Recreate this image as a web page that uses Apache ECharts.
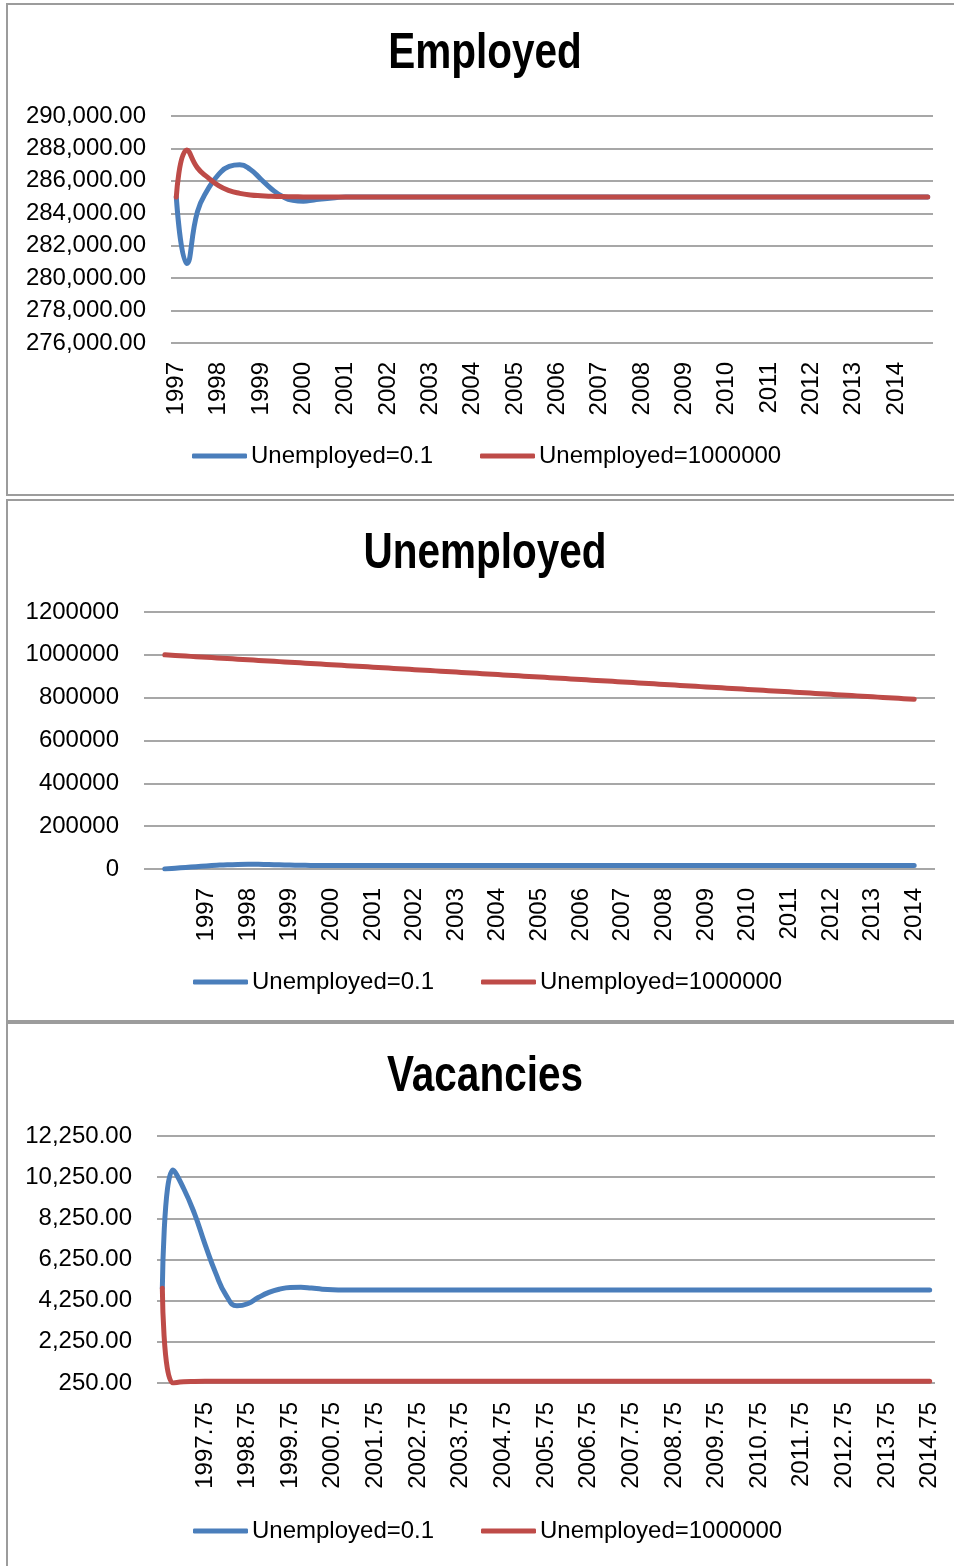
<!DOCTYPE html>
<html>
<head>
<meta charset="utf-8">
<script src="https://cdn.jsdelivr.net/npm/echarts@6/dist/echarts.min.js"></script>
<style>
  html, body { margin: 0; padding: 0; background: #fff; }
  #chart { width: 954px; height: 1566px; }
</style>
</head>
<body>
<div id="chart"></div>
<script>
// ---- Employed (quarterly, 1997 – 2014.75) ----
const employedQuarters = [
  '1997','1997.25','1997.5','1997.75','1998','1998.25','1998.5','1998.75',
  '1999','1999.25','1999.5','1999.75','2000','2000.25','2000.5','2000.75',
  '2001','2001.25','2001.5','2001.75','2002','2002.25','2002.5','2002.75',
  '2003','2003.25','2003.5','2003.75','2004','2004.25','2004.5','2004.75',
  '2005','2005.25','2005.5','2005.75','2006','2006.25','2006.5','2006.75',
  '2007','2007.25','2007.5','2007.75','2008','2008.25','2008.5','2008.75',
  '2009','2009.25','2009.5','2009.75','2010','2010.25','2010.5','2010.75',
  '2011','2011.25','2011.5','2011.75','2012','2012.25','2012.5','2012.75',
  '2013','2013.25','2013.5','2013.75','2014','2014.25','2014.5','2014.75'
];
const employedLowStart = [
  285000, 280900, 284100, 285500, 286400, 286900, 287000, 286700,
  286100, 285500, 285050, 284800, 284750, 284820, 284900, 284960,
  285000, 285000, 285000, 285000, 285000, 285000, 285000, 285000,
  285000, 285000, 285000, 285000, 285000, 285000, 285000, 285000,
  285000, 285000, 285000, 285000, 285000, 285000, 285000, 285000,
  285000, 285000, 285000, 285000, 285000, 285000, 285000, 285000,
  285000, 285000, 285000, 285000, 285000, 285000, 285000, 285000,
  285000, 285000, 285000, 285000, 285000, 285000, 285000, 285000,
  285000, 285000, 285000, 285000, 285000, 285000, 285000, 285000
];
const employedHighStart = [
  285000, 287900, 286800, 286200, 285700, 285400, 285230, 285130,
  285080, 285050, 285030, 285020, 285010, 285000, 285000, 285000,
  285000, 285000, 285000, 285000, 285000, 285000, 285000, 285000,
  285000, 285000, 285000, 285000, 285000, 285000, 285000, 285000,
  285000, 285000, 285000, 285000, 285000, 285000, 285000, 285000,
  285000, 285000, 285000, 285000, 285000, 285000, 285000, 285000,
  285000, 285000, 285000, 285000, 285000, 285000, 285000, 285000,
  285000, 285000, 285000, 285000, 285000, 285000, 285000, 285000,
  285000, 285000, 285000, 285000, 285000, 285000, 285000, 285000
];
const employedTicks = { min: 276000, max: 290000, step: 2000 };

// ---- Unemployed (axis runs 1995.5 – 2014.5, data 1996 – 2014) ----
const unemployedQuarters = [
  '1995.5','1995.75',
  '1996','1996.25','1996.5','1996.75','1997','1997.25','1997.5','1997.75',
  '1998','1998.25','1998.5','1998.75','1999','1999.25','1999.5','1999.75',
  '2000','2000.25','2000.5','2000.75','2001','2001.25','2001.5','2001.75',
  '2002','2002.25','2002.5','2002.75','2003','2003.25','2003.5','2003.75',
  '2004','2004.25','2004.5','2004.75','2005','2005.25','2005.5','2005.75',
  '2006','2006.25','2006.5','2006.75','2007','2007.25','2007.5','2007.75',
  '2008','2008.25','2008.5','2008.75','2009','2009.25','2009.5','2009.75',
  '2010','2010.25','2010.5','2010.75','2011','2011.25','2011.5','2011.75',
  '2012','2012.25','2012.5','2012.75','2013','2013.25','2013.5','2013.75',
  '2014','2014.25','2014.5'
];
const unemployedLowStart = [
  0.1, 3500, 7500, 11000, 14500, 17500, 20000, 21500,
  22000, 21600, 20700, 19500, 18300, 17400, 16800, 16400,
  16200, 16100, 16000, 16000, 16000, 16000, 16000, 16000,
  16000, 16000, 16000, 16000, 16000, 16000, 16000, 16000,
  16000, 16000, 16000, 16000, 16000, 16000, 16000, 16000,
  16000, 16000, 16000, 16000, 16000, 16000, 16000, 16000,
  16000, 16000, 16000, 16000, 16000, 16000, 16000, 16000,
  16000, 16000, 16000, 16000, 16000, 16000, 16000, 16000,
  16000, 16000, 16000, 16000, 16000, 16000, 16000, 16000,
  16000
];
const unemployedHighStart = [
  1000000, 997100, 994200, 991400, 988500, 985600, 982700, 979800,
  976900, 974100, 971200, 968300, 965400, 962500, 959600, 956800,
  953900, 951000, 948100, 945200, 942400, 939500, 936600, 933700,
  930800, 927900, 925100, 922200, 919300, 916400, 913500, 910600,
  907800, 904900, 902000, 899100, 896200, 893400, 890500, 887600,
  884700, 881800, 878900, 876100, 873200, 870300, 867400, 864500,
  861600, 858800, 855900, 853000, 850100, 847200, 844400, 841500,
  838600, 835700, 832800, 829900, 827100, 824200, 821300, 818400,
  815500, 812600, 809800, 806900, 804000, 801100, 798200, 795400,
  792500
];
const unemployedTicks = { min: 0, max: 1200000, step: 200000 };

// ---- Vacancies (quarterly, 1996.75 – 2014.75) ----
const vacancyQuarters = [
  '1996.75',
  '1997','1997.25','1997.5','1997.75','1998','1998.25','1998.5','1998.75',
  '1999','1999.25','1999.5','1999.75','2000','2000.25','2000.5','2000.75',
  '2001','2001.25','2001.5','2001.75','2002','2002.25','2002.5','2002.75',
  '2003','2003.25','2003.5','2003.75','2004','2004.25','2004.5','2004.75',
  '2005','2005.25','2005.5','2005.75','2006','2006.25','2006.5','2006.75',
  '2007','2007.25','2007.5','2007.75','2008','2008.25','2008.5','2008.75',
  '2009','2009.25','2009.5','2009.75','2010','2010.25','2010.5','2010.75',
  '2011','2011.25','2011.5','2011.75','2012','2012.25','2012.5','2012.75',
  '2013','2013.25','2013.5','2013.75','2014','2014.25','2014.5','2014.75'
];
const vacancyLowStart = [
  4850, 10600, 9700, 8500, 7000, 5600, 4500, 4000,
  4100, 4400, 4650, 4810, 4890, 4900, 4860, 4810,
  4780, 4770, 4770, 4770, 4770, 4770, 4770, 4770,
  4770, 4770, 4770, 4770, 4770, 4770, 4770, 4770,
  4770, 4770, 4770, 4770, 4770, 4770, 4770, 4770,
  4770, 4770, 4770, 4770, 4770, 4770, 4770, 4770,
  4770, 4770, 4770, 4770, 4770, 4770, 4770, 4770,
  4770, 4770, 4770, 4770, 4770, 4770, 4770, 4770,
  4770, 4770, 4770, 4770, 4770, 4770, 4770, 4770,
  4770
];
const vacancyHighStart = [
  4850, 250, 310, 325, 330, 330, 330, 330,
  330, 330, 330, 330, 330, 330, 330, 330,
  330, 330, 330, 330, 330, 330, 330, 330,
  330, 330, 330, 330, 330, 330, 330, 330,
  330, 330, 330, 330, 330, 330, 330, 330,
  330, 330, 330, 330, 330, 330, 330, 330,
  330, 330, 330, 330, 330, 330, 330, 330,
  330, 330, 330, 330, 330, 330, 330, 330,
  330, 330, 330, 330, 330, 330, 330, 330,
  330
];
const vacancyTicks = { min: 250, max: 12250, step: 2000 };

const seriesNames = ['Unemployed=0.1', 'Unemployed=1000000'];
const panelTitles = ['Employed', 'Unemployed', 'Vacancies'];

// ---- styling ----
const FONT = "'Liberation Sans', Arial, sans-serif";
const BLUE = '#4A7EBB';
const RED = '#BE4B48';
const GRID_COLOR = '#8a8a8a';
const LABEL_SIZE = 24;

const twoDecimals = v => v.toLocaleString('en-US', { minimumFractionDigits: 2, maximumFractionDigits: 2 });

function yAxis(gridIndex, ticks, formatter) {
  return {
    type: 'value', gridIndex,
    min: ticks.min, max: ticks.max, interval: ticks.step,
    axisLine: { show: false }, axisTick: { show: false },
    splitLine: { show: true, lineStyle: { color: GRID_COLOR, width: 1.5 } },
    axisLabel: { color: '#000', fontFamily: FONT, fontSize: LABEL_SIZE, margin: 25, formatter }
  };
}

function xAxis(gridIndex, cats, boundaryGap, showIdx) {
  return {
    type: 'category', gridIndex, data: cats, boundaryGap,
    axisLine: { show: false }, axisTick: { show: false }, splitLine: { show: false },
    axisLabel: {
      color: '#000', fontFamily: FONT, fontSize: LABEL_SIZE, rotate: 90, margin: 19,
      interval: (i) => showIdx(i)
    }
  };
}

function line(name, data, color, xi, yi) {
  return {
    name, type: 'line', data, xAxisIndex: xi, yAxisIndex: yi,
    smooth: true, showSymbol: false, symbol: 'none', connectNulls: false,
    lineStyle: { color, width: 5, cap: 'round', join: 'round' },
    itemStyle: { color },
    emphasis: { disabled: true }, silent: true
  };
}

function legend(name, left, top) {
  return {
    data: [name], left, top, padding: 0, orient: 'horizontal',
    icon: 'roundRect', itemWidth: 55, itemHeight: 5, selectedMode: false,
    textStyle: { color: '#000', fontFamily: FONT, fontSize: LABEL_SIZE, lineHeight: 30, padding: [0, 0, 0, -1] }
  };
}

// Panel headings: bold, drawn a little taller than wide (scaled about their own anchor)
function title(text, y) {
  return {
    type: 'text', x: 485, y, originX: 0, originY: 0, scaleY: 1.25,
    style: { text, fill: '#000', font: 'bold 40.5px ' + FONT, textAlign: 'center', textVerticalAlign: 'middle' }
  };
}

function frame(y, h) {
  return {
    type: 'rect', shape: { x: 7, y, width: 980, height: h },
    style: { fill: 'none', stroke: '#9c9c9c', lineWidth: 2 }
  };
}

const pad2 = arr => [null, null].concat(arr, [null, null]);

const chart = echarts.init(document.getElementById('chart'), null, { renderer: 'canvas' });
chart.setOption({
  animation: false,
  backgroundColor: '#fff',
  grid: [
    { left: 171, right: 21, top: 116, height: 227 },
    { left: 144, right: 19, top: 612, height: 257 },
    { left: 157, right: 19, top: 1136, height: 247 }
  ],
  xAxis: [
    xAxis(0, employedQuarters, true, i => i % 4 === 0),
    xAxis(1, unemployedQuarters, false, i => i >= 6 && i % 4 === 2),
    xAxis(2, vacancyQuarters, true, i => i > 0 && i % 4 === 0)
  ],
  yAxis: [
    yAxis(0, employedTicks, twoDecimals),
    yAxis(1, unemployedTicks, v => String(v)),
    yAxis(2, vacancyTicks, twoDecimals)
  ],
  legend: [
    legend(seriesNames[0], 192, 441), legend(seriesNames[1], 480, 441),
    legend(seriesNames[0], 193, 967), legend(seriesNames[1], 481, 967),
    legend(seriesNames[0], 193, 1516), legend(seriesNames[1], 481, 1516)
  ],
  series: [
    line(seriesNames[0], employedLowStart, BLUE, 0, 0),
    line(seriesNames[1], employedHighStart, RED, 0, 0),
    line(seriesNames[0], pad2(unemployedLowStart), BLUE, 1, 1),
    line(seriesNames[1], pad2(unemployedHighStart), RED, 1, 1),
    line(seriesNames[0], vacancyLowStart, BLUE, 2, 2),
    line(seriesNames[1], vacancyHighStart, RED, 2, 2)
  ],
  graphic: [
    frame(4, 491), frame(500, 521), frame(1023, 560),
    title(panelTitles[0], 54), title(panelTitles[1], 554), title(panelTitles[2], 1077)
  ]
});
</script>
</body>
</html>
